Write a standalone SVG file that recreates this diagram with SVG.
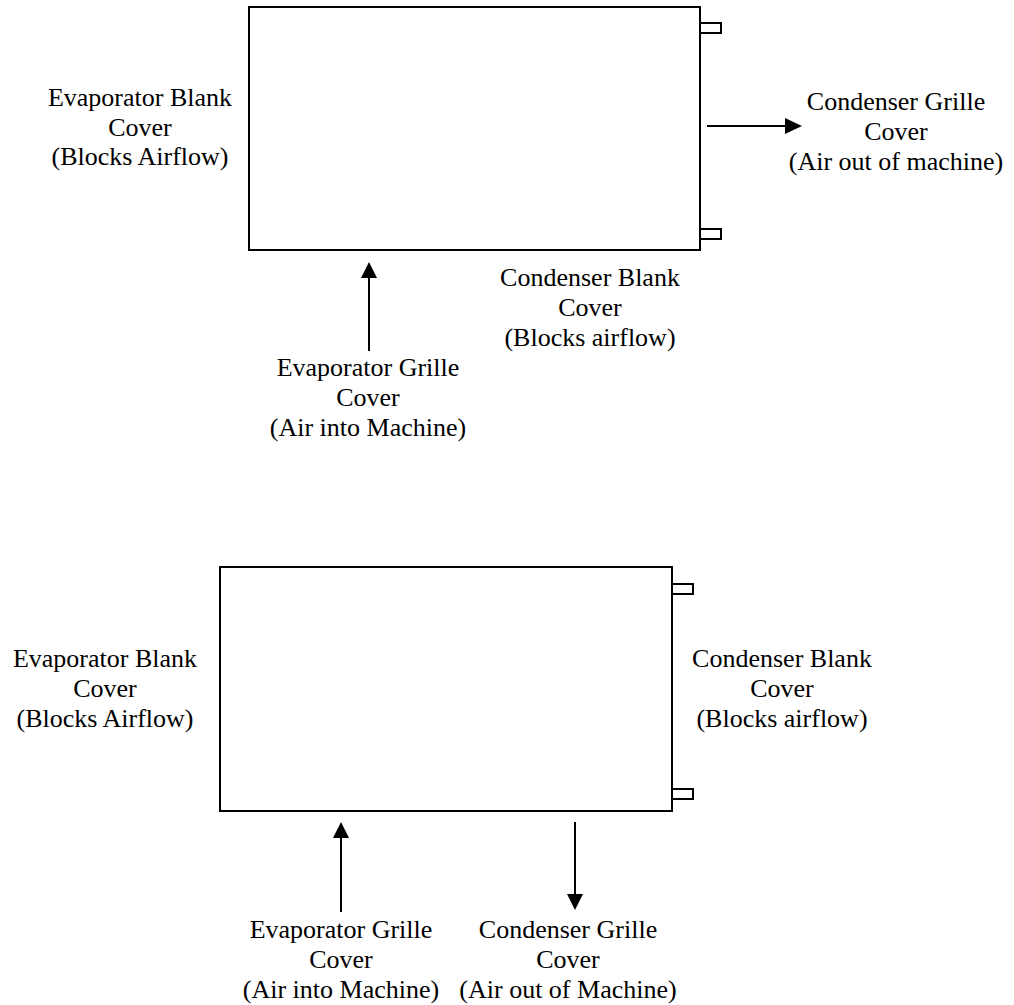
<svg xmlns="http://www.w3.org/2000/svg" width="1014" height="1005" viewBox="0 0 1014 1005">
<defs>
<style>
.box{fill:none;stroke:#000;stroke-width:2}
.tab{fill:#fff;stroke:#000;stroke-width:2}
.ln{stroke:#000;stroke-width:2;fill:none}
.ah{fill:#000}
text{font-family:"Liberation Serif","Times New Roman",serif;font-size:26px;fill:#000;text-anchor:middle}
</style>
</defs>
<rect width="1014" height="1005" fill="#fff"/>
<g id="unit-top">
<rect class="box" x="249" y="7" width="451" height="243"/>
<rect class="tab" x="700" y="23" width="21" height="10"/>
<rect class="tab" x="700" y="229" width="21" height="10"/>
</g>
<g id="unit-bottom">
<rect class="box" x="220" y="567" width="452" height="244"/>
<rect class="tab" x="672" y="584" width="21" height="10"/>
<rect class="tab" x="672" y="789" width="21" height="10"/>
</g>
<g id="connectors">
<line class="ln" x1="707" y1="126" x2="787" y2="126"/>
<polygon class="ah" points="802,126 785,118 785,134"/>
<line class="ln" x1="369" y1="276" x2="369" y2="351"/>
<polygon class="ah" points="369,262 361,278 377,278"/>
<line class="ln" x1="341" y1="836" x2="341" y2="912"/>
<polygon class="ah" points="341,822 333,838 349,838"/>
<line class="ln" x1="575" y1="822" x2="575" y2="896"/>
<polygon class="ah" points="575,910 567,894 583,894"/>
</g>
<g id="label-top-evap-blank">
<text x="140" y="106">Evaporator Blank</text>
<text x="140" y="136">Cover</text>
<text x="140" y="165">(Blocks Airflow)</text>
</g>
<g id="label-top-cond-grille">
<text x="896" y="110">Condenser Grille</text>
<text x="896" y="140">Cover</text>
<text x="896" y="170">(Air out of machine)</text>
</g>
<g id="label-top-cond-blank">
<text x="590" y="286">Condenser Blank</text>
<text x="590" y="316">Cover</text>
<text x="590" y="346">(Blocks airflow)</text>
</g>
<g id="label-top-evap-grille">
<text x="368" y="376">Evaporator Grille</text>
<text x="368" y="406">Cover</text>
<text x="368" y="436">(Air into Machine)</text>
</g>
<g id="label-bottom-evap-blank">
<text x="105" y="667">Evaporator Blank</text>
<text x="105" y="697">Cover</text>
<text x="105" y="727">(Blocks Airflow)</text>
</g>
<g id="label-bottom-cond-blank">
<text x="782" y="667">Condenser Blank</text>
<text x="782" y="697">Cover</text>
<text x="782" y="727">(Blocks airflow)</text>
</g>
<g id="label-bottom-evap-grille">
<text x="341" y="938">Evaporator Grille</text>
<text x="341" y="968">Cover</text>
<text x="341" y="998">(Air into Machine)</text>
</g>
<g id="label-bottom-cond-grille">
<text x="568" y="938">Condenser Grille</text>
<text x="568" y="968">Cover</text>
<text x="568" y="998">(Air out of Machine)</text>
</g>
</svg>
